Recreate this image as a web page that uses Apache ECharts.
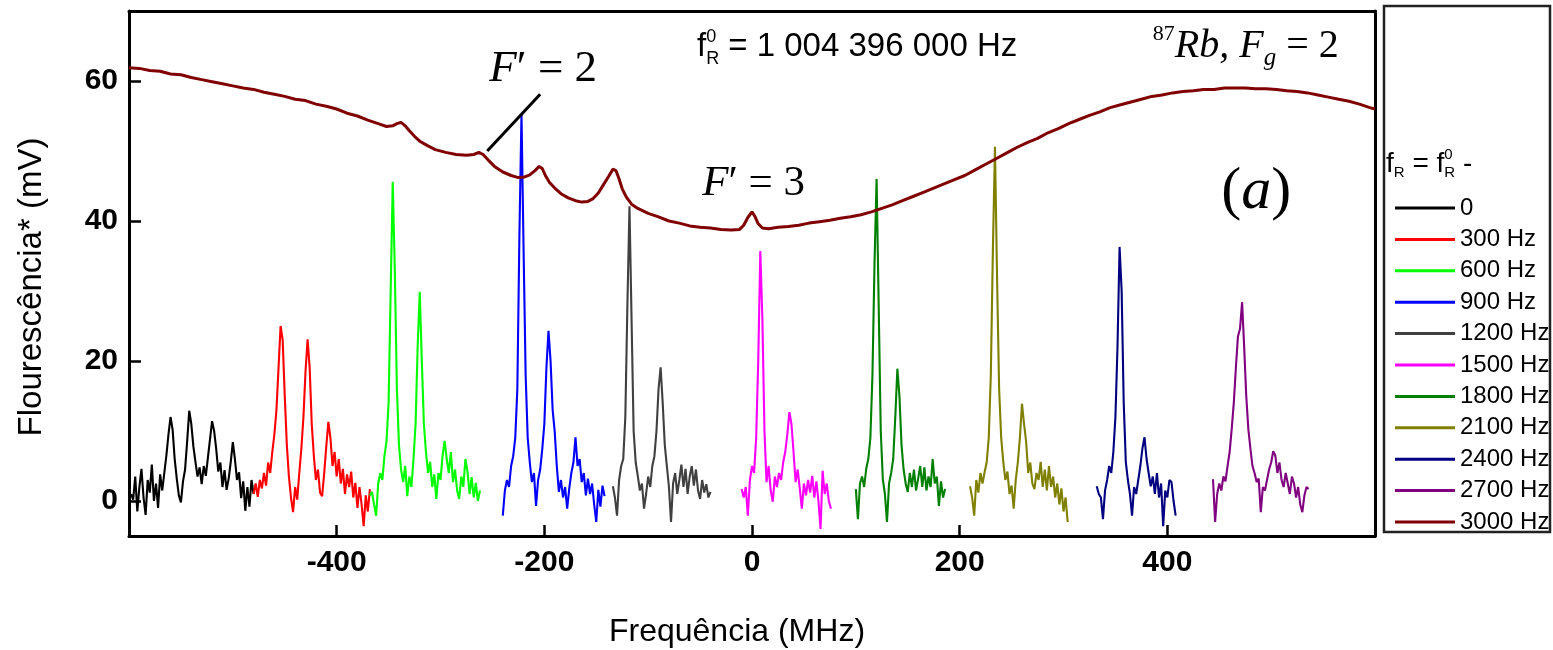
<!DOCTYPE html>
<html>
<head>
<meta charset="utf-8">
<script src="https://cdn.jsdelivr.net/npm/echarts@6/dist/echarts.min.js"></script>
<style>
  html, body { margin: 0; padding: 0; background: #fff; }
  #chart { width: 1553px; height: 650px; }
</style>
</head>
<body>
<div id="chart"></div>
<script>
// Fluorescence spectra of 87Rb (Fg = 2) for several RF detunings, in mV vs. MHz.
const legendNames = ['0', '300 Hz', '600 Hz', '900 Hz', '1200 Hz', '1500 Hz',
                     '1800 Hz', '2100 Hz', '2400 Hz', '2700 Hz', '3000 Hz'];

// Sampling of the scans: first frequency (MHz) of each trace, 2 MHz steps.
const freqStep = 2;
const traceStarts = [-598, -480, -368, -240, -134, -10, 100, 210, 332, 444];

const trace0Hz = [1.0, 0.2, 3.5, -1.5, 2.0, 4.6, 0.5, -2.0, 3.0, 1.2,
  5.2, 0.0, 2.5, -1.0, 3.8, 1.5, 4.0, 6.5, 9.5, 12.0,
  10.2, 6.0, 3.2, 0.8, -0.2, 2.8, 4.5, 8.5, 12.9, 11.0,
  7.8, 5.6, 3.5, 4.8, 2.4, 5.0, 3.6, 6.2, 8.8, 11.4,
  10.0, 7.4, 4.2, 5.5, 2.0, 4.4, 1.6, 3.2, 5.6, 8.4,
  6.0, 3.0, 4.1, 0.4, 2.8, -1.4, 2.0, -0.8, 3.0, 1.0];
const trace300Hz = [1.0, 2.5, 0.6, 3.0, 1.8, 4.0, 2.2, 5.5, 4.0, 7.0,
  9.5, 13.0, 19.0, 25.0, 23.0, 15.0, 8.0, 3.5, 0.5, -1.6,
  2.0, 0.2, 4.0, 7.5, 12.0, 18.5, 23.1, 19.0, 11.0, 6.5,
  3.0, 4.5, 1.2, 0.7, 4.0, 7.8, 11.3, 9.0, 5.0, 7.0,
  3.5, 6.0, 2.5, 4.6, 1.0, 3.8, 2.0, 4.2, 0.5, 2.6,
  -1.0, 2.0, -0.5, -3.6, 0.8, -1.5, 1.7];
const trace600Hz = [0.8, 1.3, -0.5, -2.1, 2.5, 4.0, 3.0, 6.4, 8.5, 14.0,
  30.0, 45.6, 33.0, 16.0, 8.0, 4.5, 2.7, 5.0, 0.7, 3.5,
  2.0, 6.0, 11.0, 22.0, 29.9, 20.0, 11.0, 7.0, 4.0, 5.6,
  2.0, 3.8, 0.3, 4.0, 3.0, 6.5, 8.6, 6.0, 4.0, 7.0,
  2.7, 4.5, 1.5, 0.3, 3.5, 2.0, 6.0, 4.2, 1.0, 3.4,
  0.5, 2.6, 0.0, 1.5];
const trace900Hz = [-2.1, 1.5, 3.0, 2.0, 5.0, 6.4, 9.0, 16.0, 38.0, 55.3,
  36.0, 18.0, 9.0, 5.5, 2.7, 4.0, -0.7, 3.0, 4.5, 7.4,
  11.0, 19.0, 24.3, 20.0, 13.0, 9.9, 5.0, 1.3, 3.0, 0.5,
  2.0, -1.1, 1.8, 4.0, 5.5, 9.1, 5.0, 6.0, 2.7, 4.0,
  0.8, 3.2, 1.0, 2.5, -0.5, -3.0, 1.6, -0.8, 2.2, 0.7];
const trace1200Hz = [2.1, 0.5, -2.1, 3.0, 5.0, 6.0, 12.0, 28.0, 42.1, 26.0,
  10.0, 5.5, 3.6, 1.5, 2.5, -1.1, 1.0, 3.5, 2.0, 5.0,
  6.4, 10.0, 16.0, 19.1, 14.0, 8.0, 5.0, 2.0, -3.0, 2.5,
  4.0, 1.0, 3.0, 5.2, 2.0, 4.6, 1.0, 3.5, 5.0, 2.2,
  4.5, 1.5, 0.3, 3.0, 1.2, 2.4, 0.5, 1.3];
const trace1500Hz = [1.7, 0.5, 2.0, -2.1, 3.0, 5.0, 4.0, 9.0, 20.0, 35.7,
  26.0, 10.0, 2.7, 5.0, 1.5, -0.1, 3.5, 2.0, 4.0, 3.0,
  5.5, 7.0, 9.5, 12.7, 11.0, 7.0, 2.7, 4.5, 1.8, -1.1,
  2.5, 0.8, 3.0, 1.2, 3.6, 0.5, 2.8, 0.0, -4.0, 4.3,
  1.0, 2.5, 0.0, -1.1];
const trace1800Hz = [1.7, -2.6, 2.5, 3.5, 2.0, 4.6, 6.0, 9.0, 18.0, 34.0,
  46.0, 28.0, 10.0, 3.1, 1.0, -3.0, 2.5, 4.0, 6.0, 12.0,
  18.9, 15.0, 8.0, 4.5, 2.5, 1.3, 4.0, 2.0, 4.5, 1.5,
  3.2, 5.0, 2.0, 4.8, 1.5, 3.5, 2.0, 6.0, 2.5, 3.5,
  -0.7, 2.8, 0.5, 1.7];
const trace2100Hz = [2.1, 0.5, -2.1, 3.0, 1.2, 4.0, 2.5, 4.1, 5.5, 9.0,
  18.0, 36.0, 50.6, 32.0, 16.0, 9.0, 5.6, 3.0, 4.2, 1.0,
  2.2, -1.1, 3.0, 5.5, 9.0, 13.9, 11.0, 8.5, 4.0, 5.5,
  2.5, 1.7, 4.0, 3.0, 5.6, 2.0, 4.5, 1.5, 5.0, 2.0,
  3.5, 0.5, 2.5, -0.5, 1.8, -1.5, 0.5, -3.0];
const trace2400Hz = [2.1, 1.0, 0.5, -2.6, 1.5, 3.0, 5.0, 4.0, 7.0, 12.0,
  22.0, 36.3, 30.0, 14.0, 5.6, 3.0, 1.0, -2.1, 2.0, 1.0,
  3.0, 5.0, 7.5, 9.1, 6.0, 4.0, 2.1, 3.5, 1.0, 4.0,
  0.5, 2.5, -3.6, 1.5, 0.5, 3.0, 2.7, 0.0, -2.1];
const trace2700Hz = [3.1, -3.0, 1.0, 2.5, 1.5, 3.5, 2.8, 5.0, 7.0, 10.3,
  14.0, 19.0, 23.5, 24.6, 28.4, 22.0, 15.0, 10.3, 7.5, 5.0,
  4.0, 2.7, 3.2, -1.6, 2.0, 1.5, 3.0, 4.5, 5.5, 7.1,
  6.5, 4.0, 5.5, 3.0, 2.0, 4.0, 2.5, 1.0, 3.5, 2.5,
  0.5, 2.0, -0.5, -1.6, 0.8, 2.0, 1.7];

// Full sweep at 3000 Hz detuning: [frequency MHz, fluorescence mV]
const sweep3000Hz = [
  [-600, 61.9], [-590, 61.8], [-580, 61.5], [-570, 61.4], [-560, 61.0], [-550, 60.9],
  [-540, 60.5], [-530, 60.2], [-520, 59.9], [-510, 59.6], [-500, 59.3], [-490, 59.0],
  [-480, 58.8], [-470, 58.4], [-460, 58.1], [-450, 57.8], [-440, 57.4], [-430, 57.2],
  [-420, 56.7], [-410, 56.4], [-400, 56.0], [-390, 55.4], [-380, 55.0], [-370, 54.4],
  [-360, 53.9], [-352, 53.5], [-346, 53.6], [-342, 53.9], [-338, 54.1], [-334, 53.6],
  [-330, 52.9], [-325, 52.1], [-320, 51.4], [-313, 50.8], [-305, 50.2], [-295, 49.8],
  [-285, 49.5], [-275, 49.4], [-268, 49.5], [-263, 49.8], [-259, 49.5], [-254, 48.7],
  [-248, 47.8], [-240, 47.0], [-232, 46.5], [-225, 46.2], [-219, 46.3], [-214, 46.6],
  [-209, 47.2], [-205, 47.8], [-202, 47.5], [-199, 46.5], [-195, 45.5], [-190, 44.7],
  [-184, 43.9], [-177, 43.3], [-170, 42.9], [-164, 42.7], [-158, 42.8], [-153, 43.2],
  [-148, 44.0], [-143, 45.2], [-138, 46.4], [-134, 47.4], [-131, 47.2], [-128, 46.0],
  [-125, 44.6], [-121, 43.4], [-116, 42.4], [-110, 41.8], [-100, 41.1], [-90, 40.6],
  [-80, 40.0], [-70, 39.7], [-60, 39.3], [-50, 39.1], [-40, 39.0], [-30, 38.8],
  [-20, 38.7], [-12, 38.8], [-8, 39.4], [-4, 40.5], [0, 41.3], [3, 40.6],
  [6, 39.6], [10, 39.0], [16, 38.9], [25, 39.1], [35, 39.2], [45, 39.4],
  [55, 39.7], [65, 39.9], [75, 40.1], [85, 40.4], [95, 40.6], [105, 40.9],
  [115, 41.3], [125, 41.8], [135, 42.3], [145, 42.9], [155, 43.5], [165, 44.1],
  [175, 44.7], [185, 45.3], [195, 45.9], [205, 46.5], [215, 47.3], [225, 48.1],
  [235, 48.9], [245, 49.7], [255, 50.5], [265, 51.2], [275, 51.8], [285, 52.6],
  [295, 53.2], [305, 53.9], [315, 54.5], [325, 55.1], [335, 55.6], [345, 56.2],
  [355, 56.6], [365, 57.0], [375, 57.4], [385, 57.8], [395, 58.0], [405, 58.3],
  [415, 58.5], [425, 58.6], [435, 58.8], [445, 58.8], [455, 59.0], [465, 59.0],
  [475, 59.0], [485, 58.9], [495, 58.9], [505, 58.8], [515, 58.6], [525, 58.5],
  [535, 58.3], [545, 58.0], [555, 57.7], [565, 57.4], [575, 57.1], [585, 56.7],
  [595, 56.2], [600, 56.0]
];

const xTicks = [-400, -200, 0, 200, 400];
const yTicks = [0, 20, 40, 60];

// Line colours, one per detuning
const traceColors = ['#000000', '#ff0000', '#00ff00', '#0000ff', '#404040', '#ff00ff',
                     '#008000', '#808000', '#000080', '#800080', '#800000'];

const traceValues = [trace0Hz, trace300Hz, trace600Hz, trace900Hz, trace1200Hz,
                     trace1500Hz, trace1800Hz, trace2100Hz, trace2400Hz, trace2700Hz];

const SANS = 'Liberation Sans';
const SERIF = 'Liberation Serif';

const series = traceValues.map((vals, k) => ({
  name: legendNames[k],
  type: 'line',
  data: vals.map((v, i) => [traceStarts[k] + i * freqStep, v]),
  showSymbol: false,
  symbol: 'none',
  lineStyle: { width: 2.1, color: traceColors[k] },
  itemStyle: { color: traceColors[k] },
  z: 2
}));
series.push({
  name: legendNames[10],
  type: 'line',
  data: sweep3000Hz,
  showSymbol: false,
  symbol: 'none',
  lineStyle: { width: 3, color: traceColors[10] },
  itemStyle: { color: traceColors[10] },
  z: 3
});

const chart = echarts.init(document.getElementById('chart'), null, { renderer: 'canvas' });

const frameAxisLine = { show: true, onZero: false, lineStyle: { color: '#000', width: 3 } };

chart.setOption({
  animation: false,
  backgroundColor: '#fff',
  grid: { left: 129, right: 178, top: 11, bottom: 114, containLabel: false },
  xAxis: [{
    type: 'value', min: -600, max: 600, interval: 200,
    axisLine: frameAxisLine,
    axisTick: { show: true, inside: true, length: 11, lineStyle: { color: '#000', width: 2.5 } },
    axisLabel: {
      margin: 12, fontSize: 30, fontWeight: 'bold', fontFamily: SANS, color: '#000',
      formatter: v => (xTicks.indexOf(v) >= 0 ? String(v) : '')
    },
    splitLine: { show: false }
  }, {
    type: 'value', position: 'top', min: -600, max: 600,
    axisLine: frameAxisLine, axisTick: { show: false }, axisLabel: { show: false },
    splitLine: { show: false }
  }],
  yAxis: [{
    type: 'value', min: -5, max: 70,
    axisLine: frameAxisLine,
    axisTick: { show: true, inside: true, length: 12, customValues: yTicks,
                lineStyle: { color: '#000', width: 2.5 } },
    axisLabel: { margin: 11, fontSize: 30, fontWeight: 'bold', fontFamily: SANS, color: '#000',
                 customValues: yTicks },
    splitLine: { show: false }
  }, {
    type: 'value', position: 'right', min: -5, max: 70,
    axisLine: frameAxisLine, axisTick: { show: false }, axisLabel: { show: false },
    splitLine: { show: false }
  }],
  legend: {
    orient: 'vertical', left: 1390, top: 191,
    icon: 'rect', itemWidth: 60, itemHeight: 3, itemGap: 7.4,
    selectedMode: false,
    textStyle: { fontSize: 24, fontFamily: SANS, color: '#000', lineHeight: 24 },
    data: legendNames
  },
  series: series
});

// ---- text annotations, anchored in data coordinates ----
const measureCtx = document.createElement('canvas').getContext('2d');

function fontOf(p) {
  return (p.italic ? 'italic ' : '') + (p.bold ? 'bold ' : '') + p.size + 'px "' + p.family + '"';
}

// Lays out a run of text pieces left to right; a piece with hold:true does not
// advance the pen, so the following piece stacks under it (sup over sub).
function textRun(x, y, parts) {
  const out = [];
  let cx = x;
  let held = 0;
  parts.forEach(p => {
    measureCtx.font = fontOf(p);
    const w = measureCtx.measureText(p.t).width;
    out.push({
      type: 'text', x: cx, y: y + (p.dy || 0), z: 10,
      style: {
        text: p.t, fill: '#000', fontSize: p.size, fontFamily: p.family,
        fontStyle: p.italic ? 'italic' : 'normal', fontWeight: p.bold ? 'bold' : 'normal',
        align: 'left', verticalAlign: 'middle'
      }
    });
    if (p.hold) { held = Math.max(held, w); }
    else { cx += Math.max(w, held); held = 0; }
  });
  return out;
}

function px(f, v) { return chart.convertToPixel({ gridIndex: 0 }, [f, v]); }

const graphics = [];

// f_R^0 = 1 004 396 000 Hz
let p = px(-53, 64.9);
graphics.push(...textRun(p[0], p[1], [
  { t: 'f', size: 33, family: SANS },
  { t: '0', size: 18, family: SANS, dy: -10, hold: true },
  { t: 'R', size: 18, family: SANS, dy: 12 },
  { t: ' = 1 004 396 000 Hz', size: 33, family: SANS }
]));

// 87Rb, F_g = 2
p = px(386, 64.9);
graphics.push(...textRun(p[0], p[1], [
  { t: '87', size: 22, family: SERIF, dy: -12 },
  { t: 'Rb, F', size: 40, family: SERIF, italic: true },
  { t: 'g', size: 25, family: SERIF, italic: true, dy: 12 },
  { t: ' = 2', size: 40, family: SERIF }
]));

// F' = 2 with its pointer
p = px(-253, 61.7);
graphics.push(...textRun(p[0], p[1], [
  { t: 'F', size: 45, family: SERIF, italic: true },
  { t: '\u2032', size: 45, family: SERIF },
  { t: ' = 2', size: 45, family: SERIF }
]));
const a = px(-255, 50.0), b = px(-204, 58.1);
graphics.push({ type: 'line', z: 10, shape: { x1: a[0], y1: a[1], x2: b[0], y2: b[1] },
                style: { stroke: '#000', lineWidth: 3 } });

// F' = 3
p = px(-48, 45.3);
graphics.push(...textRun(p[0], p[1], [
  { t: 'F', size: 43, family: SERIF, italic: true },
  { t: '\u2032', size: 43, family: SERIF },
  { t: ' = 3', size: 43, family: SERIF }
]));

// (a)
p = px(452, 44.1);
graphics.push(...textRun(p[0], p[1], [
  { t: '(', size: 60, family: SERIF },
  { t: 'a', size: 60, family: SERIF, italic: true },
  { t: ')', size: 60, family: SERIF }
]));

// Axis titles
graphics.push({ type: 'text', x: 737, y: 632, z: 10,
  style: { text: 'Frequência (MHz)', fontSize: 32, fontFamily: SANS, fill: '#000',
           align: 'center', verticalAlign: 'middle' } });
graphics.push({ type: 'text', x: 32, y: 287, rotation: Math.PI / 2, z: 10,
  style: { text: 'Flourescência* (mV)', fontSize: 33, fontFamily: SANS, fill: '#000',
           align: 'center', verticalAlign: 'middle' } });

// Legend frame and heading f_R = f_R^0 -
graphics.push({ type: 'rect', z: 1, shape: { x: 1384, y: 6, width: 166, height: 526 },
                style: { fill: 'none', stroke: '#222', lineWidth: 2.5 } });
graphics.push(...textRun(1386, 164, [
  { t: 'f', size: 28, family: SANS },
  { t: 'R', size: 15, family: SANS, dy: 9 },
  { t: ' = f', size: 28, family: SANS },
  { t: '0', size: 15, family: SANS, dy: -9, hold: true },
  { t: 'R', size: 15, family: SANS, dy: 9 },
  { t: ' -', size: 28, family: SANS }
]));

chart.setOption({ graphic: graphics });
</script>
</body>
</html>
